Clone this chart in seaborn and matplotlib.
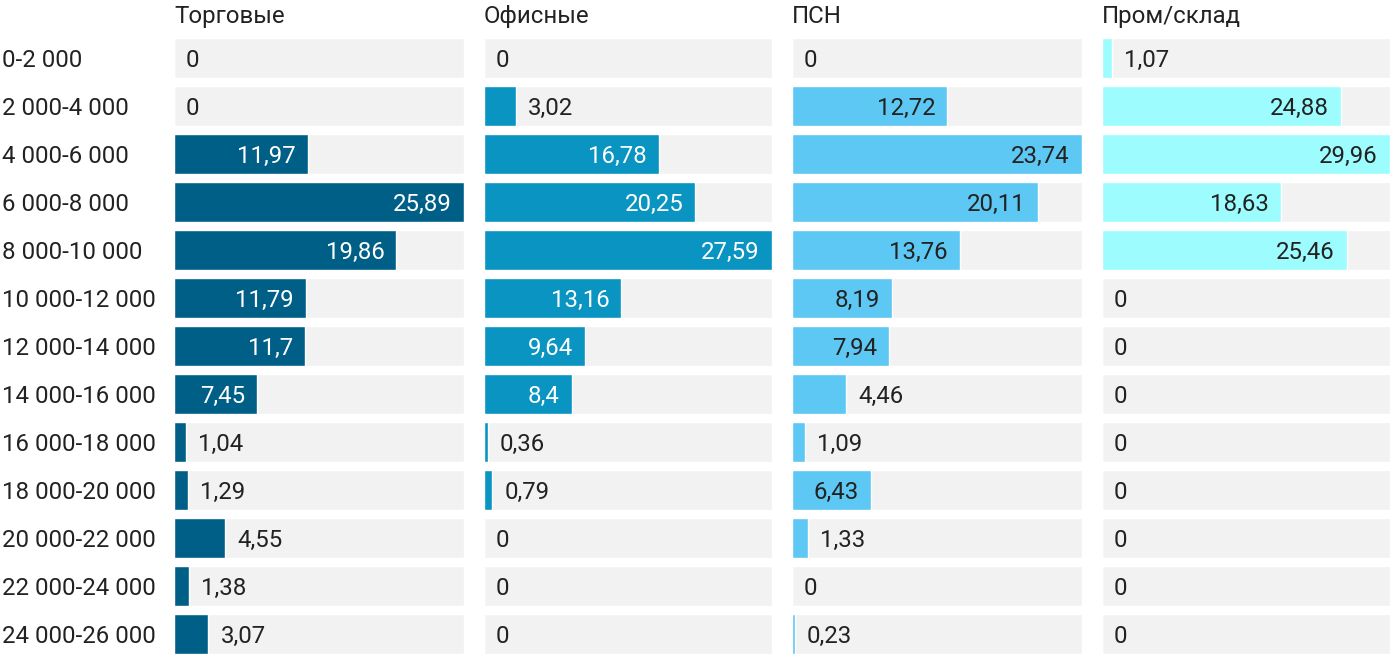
import pandas as pd
import matplotlib.pyplot as plt
import seaborn as sns

ranges = ['0-2 000', '2 000-4 000', '4 000-6 000', '6 000-8 000', '8 000-10 000',
          '10 000-12 000', '12 000-14 000', '14 000-16 000', '16 000-18 000',
          '18 000-20 000', '20 000-22 000', '22 000-24 000', '24 000-26 000']

titles = ['Торговые', 'Офисные', 'ПСН', 'Пром/склад']

trade = [0, 0, 11.97, 25.89, 19.86, 11.79, 11.7, 7.45, 1.04, 1.29, 4.55, 1.38, 3.07]
office = [0, 3.02, 16.78, 20.25, 27.59, 13.16, 9.64, 8.4, 0.36, 0.79, 0, 0, 0]
psn = [0, 12.72, 23.74, 20.11, 13.76, 8.19, 7.94, 4.46, 1.09, 6.43, 1.33, 0, 0.23]
industrial = [1.07, 24.88, 29.96, 18.63, 25.46, 0, 0, 0, 0, 0, 0, 0, 0]

series = [trade, office, psn, industrial]
colors = ['#005f87', '#0994c1', '#5dc8f3', '#9dfdfe']
inside_text = ['white', 'white', '#222222', '#222222']

sns.set_theme(style='white')
plt.rcParams['font.family'] = ['Roboto', 'DejaVu Sans']

W, H = 1400, 670
fig = plt.figure(figsize=(14, 6.7), dpi=100)

lefts = [174, 484, 792, 1102]
widths = [290, 288, 290, 288]
top, bottom = 34, 658
text_color = '#222222'
fs = 17.3

for k in range(4):
    vals = series[k]
    vmax = max(vals)
    ax = fig.add_axes([lefts[k] / W, 1 - bottom / H, widths[k] / W, (bottom - top) / H])
    df = pd.DataFrame({'range': ranges, 'value': vals, 'bg': [vmax] * len(ranges)})
    sns.barplot(data=df, x='bg', y='range', color='#f2f2f2', width=40 / 48,
                saturation=1, ax=ax, orient='h')
    sns.barplot(data=df, x='value', y='range', color=colors[k], width=40 / 48,
                saturation=1, ax=ax, orient='h')
    ax.set_xlim(0, vmax)
    ax.set_ylim(len(ranges) - 0.5, -0.5)
    ax.set_xlabel('')
    ax.set_ylabel('')
    ax.set_xticks([])
    ax.set_yticks([])
    for s in ax.spines.values():
        s.set_visible(False)
    px = widths[k] / vmax
    for i, v in enumerate(vals):
        lab = f'{v:g}'.replace('.', ',')
        if v / vmax > 0.22:
            ax.text(v - 12 / px, i, lab, ha='right', va='center_baseline',
                    fontsize=fs, color=inside_text[k])
        else:
            ax.text(v + 12 / px, i, lab, ha='left', va='center_baseline',
                    fontsize=fs, color=text_color)
    fig.text(lefts[k] / W, 1 - 14 / H, titles[k], ha='left', va='center_baseline',
             fontsize=fs, color=text_color)

for i, r in enumerate(ranges):
    fig.text(2 / W, 1 - (58 + 48 * i) / H, r, ha='left', va='center_baseline',
             fontsize=fs, color=text_color)

fig.savefig('out.png', dpi=100, facecolor='white')
